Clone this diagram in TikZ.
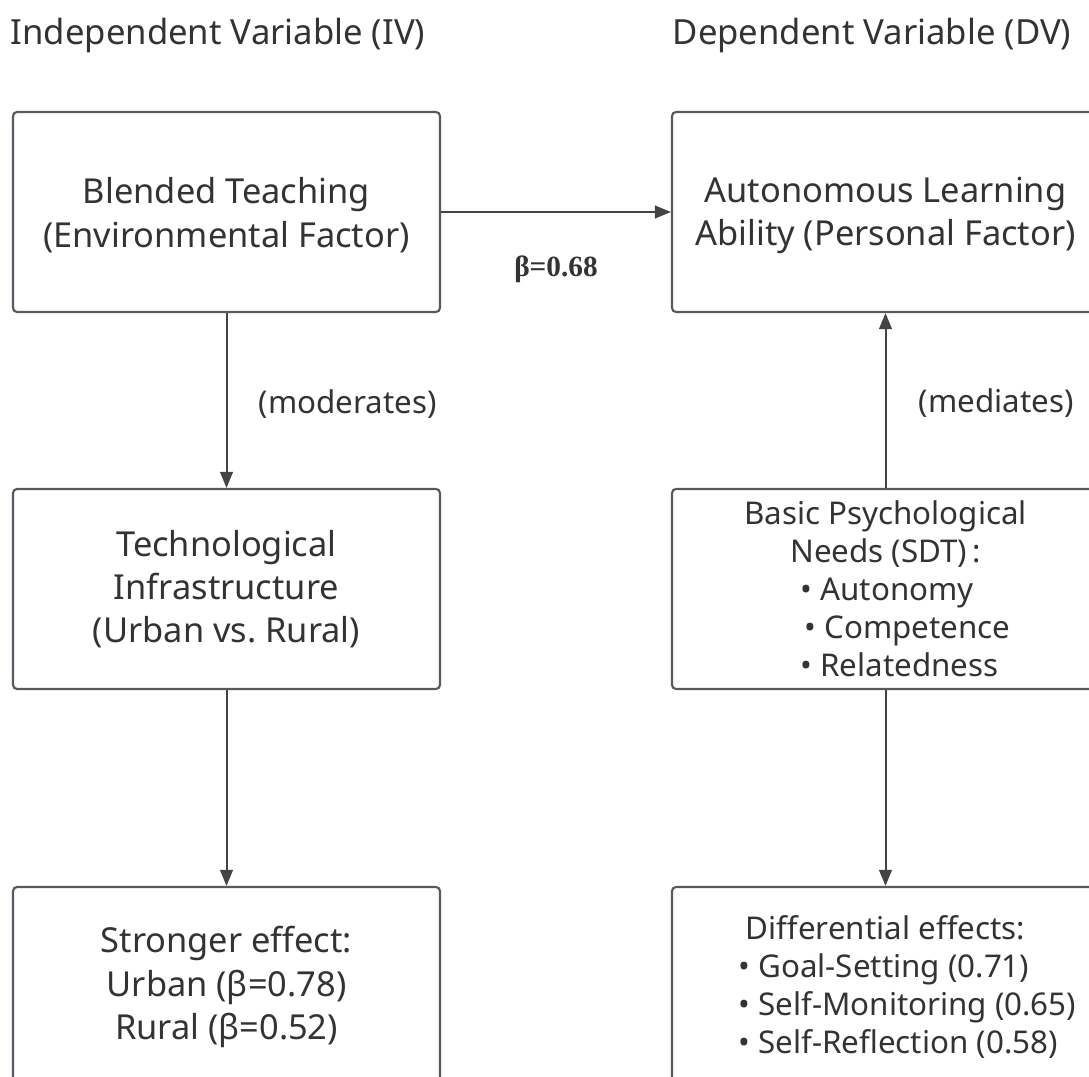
\documentclass[tikz,border=0pt]{standalone}
\usepackage{fontspec}
\setmainfont{Noto Sans}
\newfontfamily\betafont{Liberation Serif}
\usetikzlibrary{arrows.meta}
\definecolor{boxline}{HTML}{555A60}
\definecolor{arrline}{HTML}{444444}
\definecolor{txt}{HTML}{333333}
\newcommand{\kbul}[3][0pt]{\makebox[#2][l]{\hspace*{#1}• #3}}
\tikzset{
  fbox/.style={draw=boxline,line width=1.6pt,rounded corners=3pt,fill=white,
    minimum width=320.25pt,minimum height=150pt,align=center,text=txt,
    font=\fontsize{25.8}{32.5}\selectfont},
  fboxtight/.style={fbox,font=\fontsize{23.5}{28.5}\selectfont},
  farrow/.style={draw=arrline,line width=1.5pt,-{Triangle[length=12pt,width=9.5pt]}},
  flabel/.style={text=txt,font=\fontsize{23.5}{28}\selectfont},
  fhead/.style={text=txt,font=\fontsize{26}{30}\selectfont},
}
\begin{document}
\begin{tikzpicture}[x=0.75pt,y=-0.75pt]
\pgfmathsetmacro{\kxl}{226.5}
\pgfmathsetmacro{\kxr}{885.5}
\useasboundingbox[fill=white](0,0) rectangle (1089,1077);
\clip(0,0) rectangle (1089,1077);
% column headings
\node[fhead,anchor=west](ivhead) at (6,35) {Independent Variable (IV)};
\node[fhead,anchor=west](dvhead) at (668,35) {Dependent Variable (DV)};
% boxes
\node[fbox](blend) at (\kxl,212) {\\[-8pt]Blended Teaching\\(Environmental Factor)};
\node[fbox](auton) at (\kxr,212) {\\[-8pt]Autonomous Learning\\Ability (Personal Factor)};
\node[fbox](infra) at (\kxl,589) {Technological\\Infrastructure\\(Urban vs.\ Rural)};
\node[fboxtight](needs) at (\kxr,589) {Basic Psychological\\Needs (SDT)\,:\\\kbul{127.5pt}{Autonomy}\\\kbul[3pt]{127.5pt}{Competence}\\\kbul{127.5pt}{Relatedness}};
\node[fbox](urban) at (\kxl,987) {Stronger effect:\\Urban (β=0.78)\\Rural (β=0.52)};
\node[fboxtight](diffeff) at (\kxr,987) {Differential effects:\\\kbul{220.5pt}{Goal-Setting (0.71)}\\\kbul{220.5pt}{Self-Monitoring (0.65)}\\\kbul{220.5pt}{Self-Reflection (0.58)}};
% connectors
\draw[farrow](blend)--(auton)node[midway,below=29pt,text=txt,font=\betafont\bfseries\fontsize{22}{24}\selectfont]{β=0.68};
\draw[farrow](blend)--(infra)node[midway,anchor=west,xshift=20pt,yshift=-3pt,flabel]{(moderates)};
\draw[farrow](infra)--(urban);
\draw[farrow](needs)--(auton)node[midway,anchor=west,xshift=21pt,yshift=-2pt,flabel]{(mediates)};
\draw[farrow](needs)--(diffeff);
\end{tikzpicture}
\end{document}
